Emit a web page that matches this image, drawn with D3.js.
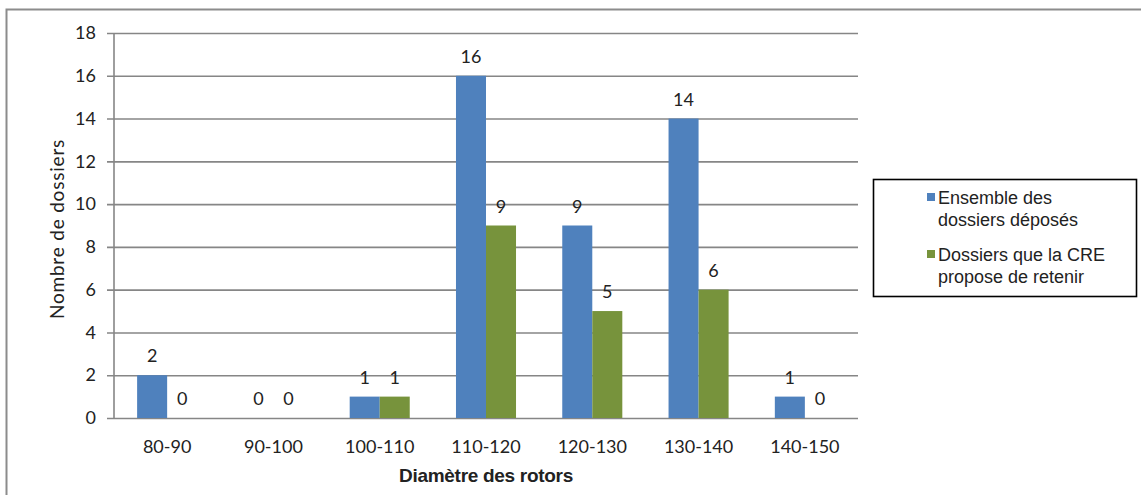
<!DOCTYPE html>
<html>
<head>
<meta charset="utf-8">
<script src="https://cdn.jsdelivr.net/npm/d3@7"></script>
<style>
  html, body { margin: 0; padding: 0; background: #fff; }
  svg { display: block; }
</style>
</head>
<body>
<svg id="chart" width="1141" height="495"></svg>
<script>
// Rotor diameter classes and number of applications per class
const categories = ["80-90", "90-100", "100-110", "110-120", "120-130", "130-140", "140-150"];
const seriesNames = ["Ensemble des dossiers déposés", "Dossiers que la CRE propose de retenir"];
const deposes = [2, 0, 1, 16, 9, 14, 1];
const retenus = [0, 0, 1, 9, 5, 6, 0];
const yTicks = [0, 2, 4, 6, 8, 10, 12, 14, 16, 18];
const colors = ["#4F81BD", "#77933C"];
const legendLines = [["Ensemble des", "dossiers déposés"], ["Dossiers que la CRE", "propose de retenir"]];

const svg = d3.select("#chart");
const labelFont = "Lato, 'Open Sans', sans-serif";
const textFont = "'Liberation Sans', Arial, sans-serif";

// outer frame
svg.append("rect")
  .attr("x", 6.5).attr("y", 9.5)
  .attr("width", 1200).attr("height", 600)
  .attr("fill", "none").attr("stroke", "#8c8c8c").attr("stroke-width", 2);

const plot = { left: 114, right: 858, top: 33, bottom: 418 };

const x = d3.scaleBand().domain(categories).range([plot.left, plot.right]).paddingInner(0).paddingOuter(0);
const y = d3.scaleLinear().domain([0, 18]).range([plot.bottom, plot.top]);
const inner = d3.scaleBand().domain([0, 1]).range([0, x.bandwidth()]).paddingInner(0).paddingOuter(0.77);

// horizontal gridlines with ticks extending left
const yAxis = d3.axisLeft(y).tickValues(yTicks).tickSize(-(plot.right - plot.left)).tickPadding(18).tickFormat(d3.format("d"));
const gy = svg.append("g").attr("transform", `translate(${plot.left},0)`).call(yAxis);
gy.select(".domain").remove();
gy.selectAll(".tick line").attr("stroke", "#868686").attr("stroke-width", 1.6).attr("x2", plot.right - plot.left).attr("x1", -7);
gy.selectAll(".tick text").attr("font-family", labelFont).attr("font-size", 18).attr("fill", "#222");

// vertical axis line
svg.append("line")
  .attr("x1", plot.left).attr("x2", plot.left)
  .attr("y1", plot.top).attr("y2", plot.bottom)
  .attr("stroke", "#868686").attr("stroke-width", 1.6);

// x axis labels
const xAxis = d3.axisBottom(x).tickSize(0).tickPadding(22);
const gx = svg.append("g").attr("transform", `translate(0,${plot.bottom})`).call(xAxis);
gx.select(".domain").remove();
gx.selectAll(".tick text").attr("font-family", labelFont).attr("font-size", 18).attr("fill", "#222");

// bars
const series = [deposes, retenus];
series.forEach((vals, si) => {
  const g = svg.append("g");
  g.selectAll("rect").data(vals).join("rect")
    .attr("x", (d, i) => x(categories[i]) + inner(si))
    .attr("width", inner.bandwidth())
    .attr("y", d => y(d))
    .attr("height", d => y(0) - y(d))
    .attr("fill", colors[si]);
  g.selectAll("text").data(vals).join("text")
    .attr("x", (d, i) => x(categories[i]) + inner(si) + inner.bandwidth() / 2)
    .attr("y", d => y(d) - 13)
    .attr("text-anchor", "middle")
    .attr("font-family", labelFont).attr("font-size", 18).attr("fill", "#222")
    .text(d => d);
});

// axis titles
svg.append("text")
  .attr("x", 486).attr("y", 481.5)
  .attr("text-anchor", "middle")
  .attr("font-family", textFont).attr("font-size", 19).attr("font-weight", "bold").attr("fill", "#222")
  .attr("letter-spacing", -0.3)
  .text("Diamètre des rotors");

svg.append("text")
  .attr("transform", "translate(64,229) rotate(-90)")
  .attr("text-anchor", "middle")
  .attr("font-family", labelFont).attr("font-size", 19).attr("fill", "#222")
  .attr("letter-spacing", 0.8)
  .text("Nombre de dossiers");

// legend
const lg = svg.append("g");
lg.append("rect")
  .attr("x", 873.5).attr("y", 179.5).attr("width", 263).attr("height", 117)
  .attr("fill", "#fff").attr("stroke", "#000").attr("stroke-width", 1.6);
legendLines.forEach((lines, i) => {
  const top = 190 + i * 57;
  lg.append("rect")
    .attr("x", 927).attr("y", top + 3).attr("width", 8).attr("height", 8)
    .attr("fill", colors[i]);
  lines.forEach((t, j) => {
    lg.append("text")
      .attr("x", 938).attr("y", top + 14 + j * 22)
      .attr("font-family", textFont).attr("font-size", 18).attr("fill", "#222")
      .text(t);
  });
});
</script>
</body>
</html>
